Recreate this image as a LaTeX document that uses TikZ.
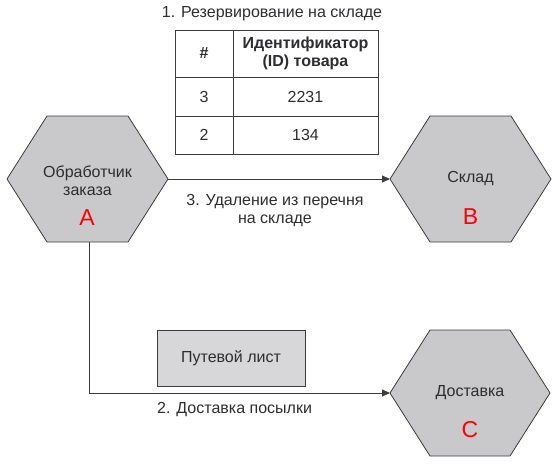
\documentclass[tikz,border=0pt]{standalone}
\usepackage{fontspec}
\setmainfont{Liberation Sans}
\usetikzlibrary{arrows.meta}
\definecolor{hexfill}{RGB}{201,201,203}
\definecolor{boxfill}{RGB}{215,215,217}
\definecolor{edge}{RGB}{60,60,62}
\definecolor{txt}{RGB}{45,45,48}
\tikzset{
  hexa/.style={draw=edge, fill=hexfill, line width=0.8pt},
  lbl/.style={text=txt, font=\fontsize{16}{18}\selectfont, align=center, inner sep=0pt},
  boldlbl/.style={lbl, font=\fontsize{16}{18}\selectfont\bfseries},
  letter/.style={text=red, font=\fontsize{23}{25}\selectfont, inner sep=0pt},
  conn/.style={draw=edge, line width=0.8pt},
  arr/.style={conn, -{Triangle[length=8pt,width=7pt]}},
  tbl/.style={draw=edge, line width=0.8pt},
}
\begin{document}
\begin{tikzpicture}[x=1pt,y=-1pt]
\useasboundingbox (0,0) rectangle (560,466);
% hexagon A
\path[hexa] (7,179) coordinate (Al) -- (47,116) -- (128,116) -- (168,179) coordinate (Ar) -- (128,242) -- (89,242) coordinate (Ab) -- (47,242) -- cycle;
\node[lbl] (Atext) at (87.5,181) {Обработчик\\заказа};
\node[letter] (Aletter) at (87,218) {A};
% hexagon B
\path[hexa] (390,179) coordinate (Bl) -- (430,116) -- (511,116) -- (551,179) -- (511,242) -- (430,242) -- cycle;
\node[lbl] (Btext) at (470.5,179) {Склад};
\node[letter] (Bletter) at (470.5,217) {B};
% hexagon C
\path[hexa] (390,393) coordinate (Cl) -- (430,330) -- (510,330) -- (550,393) -- (510,456) -- (430,456) -- cycle;
\node[lbl] (Ctext) at (470,393) {Доставка};
\node[letter] (Cletter) at (470,430) {C};
% box
\node[draw=edge, fill=boxfill, line width=0.8pt, minimum width=148pt, minimum height=56pt, inner sep=0pt, lbl] (waybill) at (231,358) {Путевой лист};
% connectors
\coordinate (bend) at (89,393);
\draw[arr] (Ar) -- (Bl);
\draw[arr] (Ab) -- (bend) -- (Cl);
\node[lbl] (l3) at (275,211) {3. Удаление из перечня\\на складе};
\node[lbl, anchor=west] (l2) at (157,410) {2. Доставка посылки};
% table
\node[lbl] (l1) at (272,14) {1. Резервирование на складе};
\draw[tbl] (175,30) rectangle (378,154);
\draw[tbl] (233,30) -- (233,154);
\draw[tbl] (175,77) -- (378,77);
\draw[tbl] (175,116) -- (378,116);
\node[boldlbl] (h1) at (204,53.5) {\#};
\node[boldlbl] (h2) at (305.5,53.5) {Идентификатор\\(ID) товара};
\node[lbl] (c11) at (204,96.5) {3};
\node[lbl] (c12) at (305.5,96.5) {2231};
\node[lbl] (c21) at (204,135) {2};
\node[lbl] (c22) at (305.5,135) {134};
\end{tikzpicture}
\end{document}
